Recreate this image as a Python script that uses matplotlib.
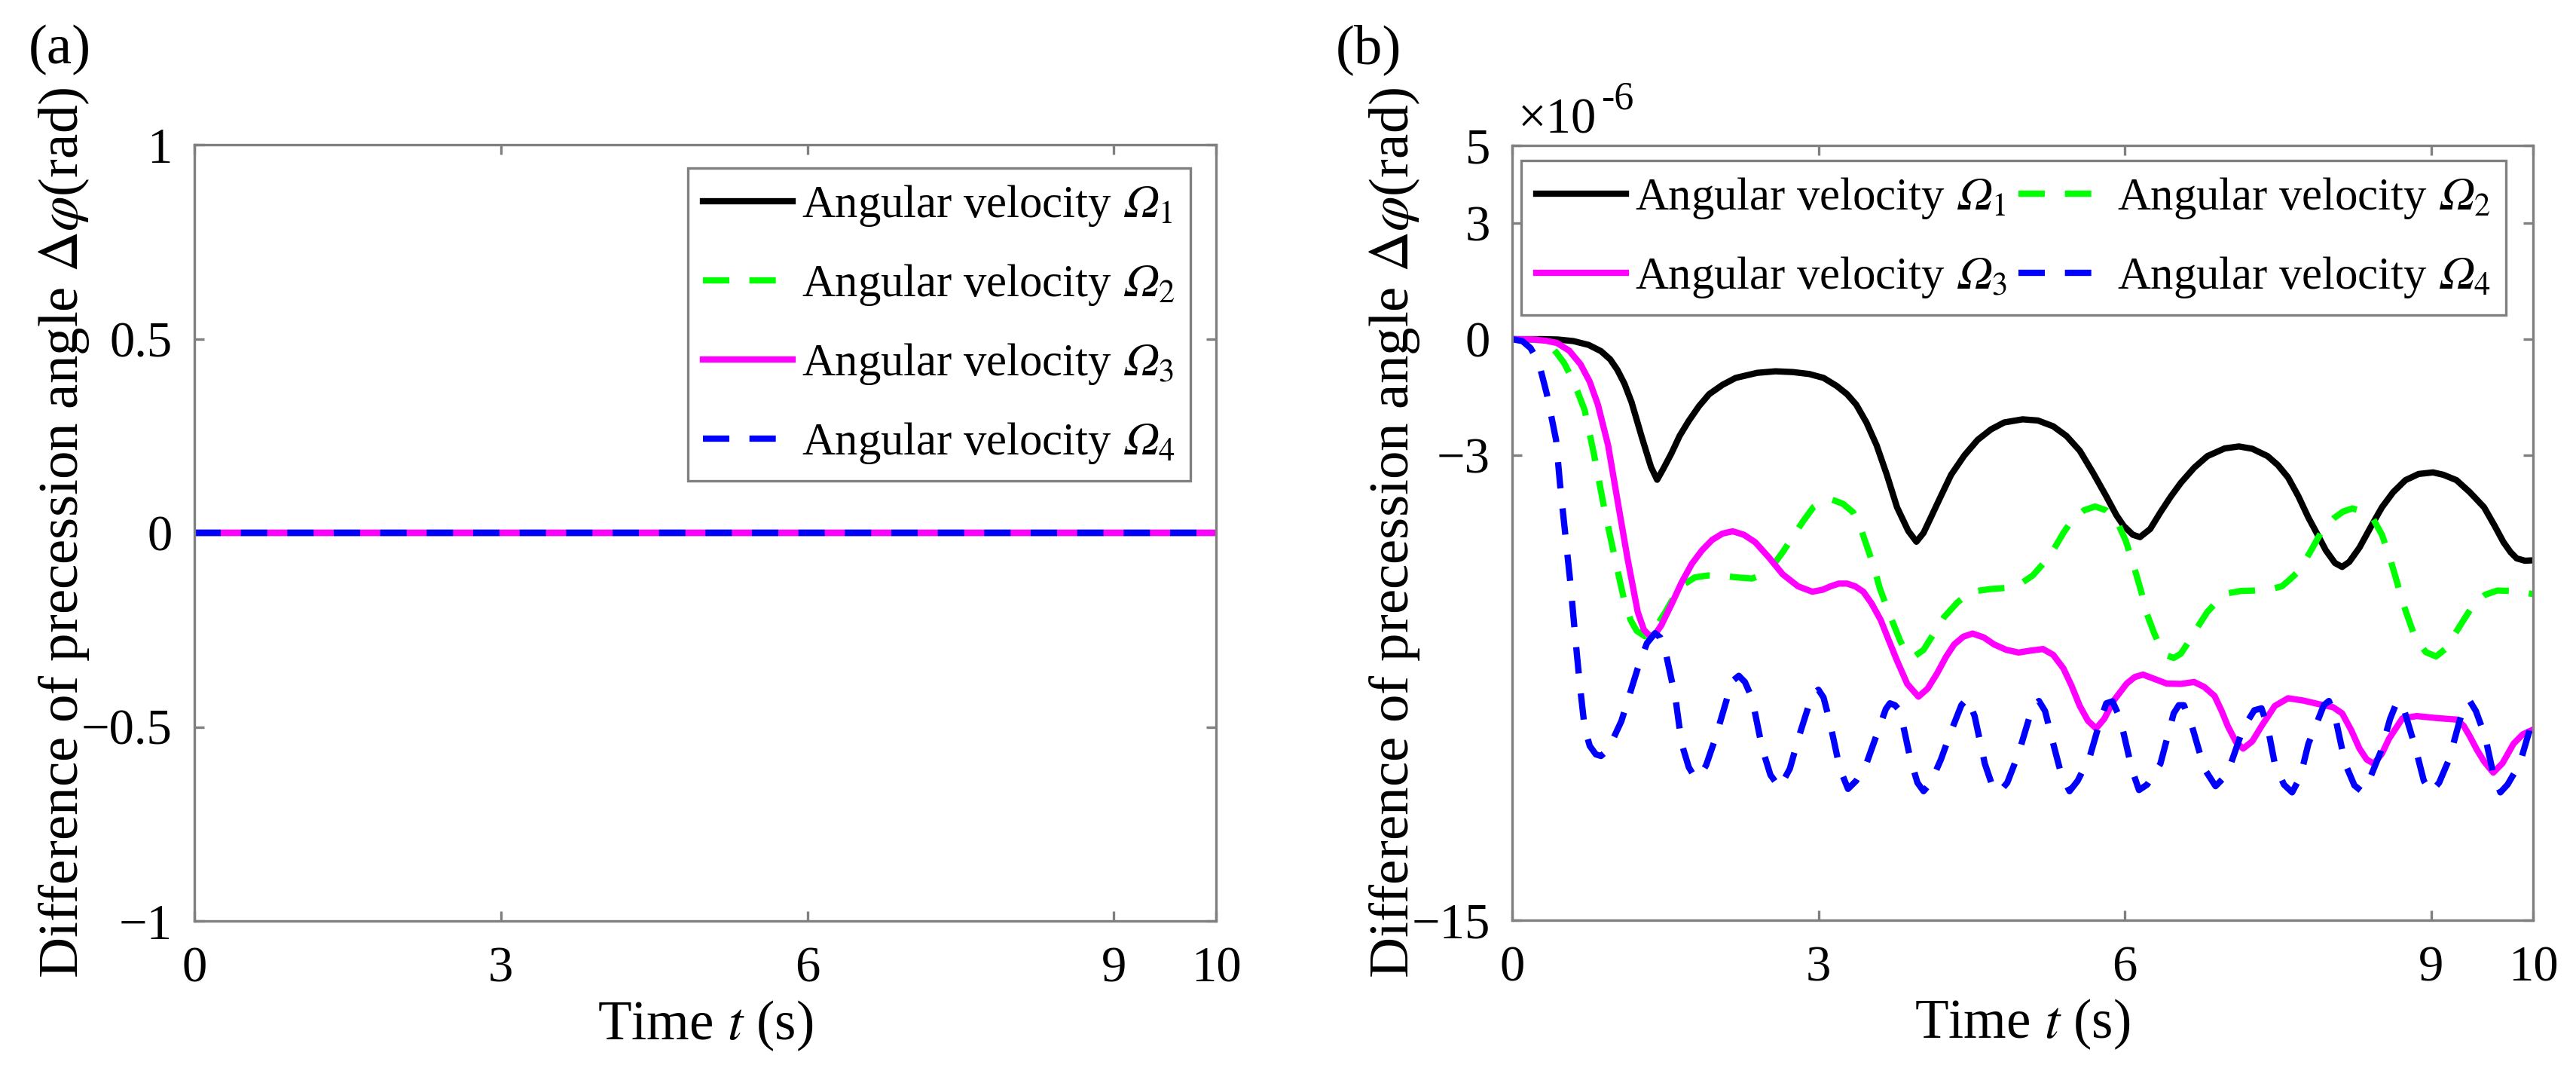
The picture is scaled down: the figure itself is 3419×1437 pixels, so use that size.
import matplotlib
matplotlib.use("Agg")
import matplotlib.pyplot as plt

plt.rcParams['font.family'] = ['Liberation Serif', 'DejaVu Serif']
plt.rcParams['mathtext.fontset'] = 'stix'

# ---------------- data ----------------
# (a) all four differences are identically zero
t_a = [0, 10]
dphi_a_1 = [0, 0]
dphi_a_2 = [0, 0]
dphi_a_3 = [0, 0]
dphi_a_4 = [0, 0]

# (b) values in units of 1e-6 rad
t_b1 = [0, 0.3, 0.45, 0.60, 0.75, 0.87, 0.96, 1.03, 1.10, 1.17, 1.27, 1.36, 1.42, 1.48, 1.56, 1.64,
        1.73, 1.83, 1.93, 2.06, 2.19, 2.40, 2.58, 2.75, 2.91, 3.05, 3.18, 3.28, 3.37, 3.47, 3.57,
        3.67, 3.77, 3.88, 3.96, 4.03, 4.10, 4.20, 4.30, 4.43, 4.56, 4.69, 4.82, 5.00, 5.15, 5.30,
        5.43, 5.56, 5.69, 5.82, 5.92, 5.99, 6.08, 6.15, 6.25, 6.35, 6.45, 6.55, 6.68, 6.81, 6.98,
        7.12, 7.25, 7.40, 7.50, 7.60, 7.70, 7.80, 7.89, 7.97, 8.06, 8.13, 8.20, 8.30, 8.41, 8.52,
        8.63, 8.75, 8.88, 9.02, 9.12, 9.25, 9.38, 9.52, 9.62, 9.71, 9.78, 9.84, 9.92, 10.0]
v_b1 = [0, 0, -0.01, -0.05, -0.15, -0.31, -0.52, -0.79, -1.15, -1.63, -2.53, -3.30, -3.63, -3.35, -2.95, -2.50,
        -2.11, -1.73, -1.42, -1.18, -1.00, -0.87, -0.83, -0.85, -0.90, -1.00, -1.21, -1.42, -1.69, -2.15, -2.74,
        -3.50, -4.34, -4.95, -5.23, -5.00, -4.61, -4.05, -3.50, -3.00, -2.60, -2.33, -2.15, -2.07, -2.10, -2.25,
        -2.50, -2.88, -3.45, -4.06, -4.55, -4.82, -5.05, -5.11, -4.90, -4.47, -4.07, -3.71, -3.32, -3.02, -2.82,
        -2.77, -2.83, -3.02, -3.25, -3.57, -4.05, -4.61, -5.05, -5.45, -5.78, -5.88, -5.75, -5.38, -4.85, -4.34,
        -3.95, -3.64, -3.48, -3.44, -3.50, -3.64, -3.95, -4.34, -4.80, -5.24, -5.50, -5.66, -5.72, -5.71]

t_b2 = [0, 0.3, 0.37, 0.44, 0.51, 0.57, 0.64, 0.71, 0.80, 0.90, 1.00, 1.10, 1.16, 1.22, 1.30, 1.40,
        1.50, 1.59, 1.69, 1.79, 1.92, 2.06, 2.20, 2.35, 2.45, 2.55, 2.65, 2.75, 2.85, 2.95, 3.04,
        3.13, 3.24, 3.34, 3.41, 3.47, 3.54, 3.60, 3.67, 3.74, 3.80, 3.85, 3.93, 4.03, 4.13, 4.23,
        4.36, 4.49, 4.69, 4.85, 4.96, 5.10, 5.20, 5.30, 5.40, 5.49, 5.60, 5.71, 5.82, 5.92, 6.01,
        6.09, 6.16, 6.22, 6.29, 6.35, 6.42, 6.48, 6.55, 6.61, 6.71, 6.81, 6.91, 7.01, 7.14, 7.27,
        7.42, 7.54, 7.62, 7.70, 7.82, 7.93, 8.05, 8.14, 8.23, 8.34, 8.43, 8.52, 8.59, 8.66, 8.72,
        8.79, 8.85, 8.95, 9.05, 9.14, 9.22, 9.32, 9.42, 9.53, 9.65, 9.80, 10.0]
v_b2 = [0, -0.02, -0.15, -0.37, -0.62, -0.93, -1.35, -1.83, -2.95, -4.34, -5.58, -6.77, -7.25, -7.53, -7.67, -7.46,
        -7.05, -6.63, -6.32, -6.15, -6.10, -6.11, -6.15, -6.18, -6.08, -5.86, -5.50, -5.10, -4.70, -4.34, -4.18,
        -4.14, -4.25, -4.47, -4.85, -5.31, -5.85, -6.42, -6.92, -7.39, -7.78, -8.05, -8.21, -8.02, -7.60, -7.18,
        -6.80, -6.52, -6.45, -6.42, -6.35, -6.10, -5.80, -5.45, -5.00, -4.65, -4.42, -4.32, -4.42, -4.68, -5.20,
        -5.86, -6.50, -7.11, -7.60, -7.95, -8.17, -8.23, -8.12, -7.88, -7.45, -7.04, -6.76, -6.56, -6.50, -6.49,
        -6.46, -6.38, -6.20, -6.00, -5.48, -4.96, -4.62, -4.45, -4.37, -4.45, -4.62, -5.05, -5.58, -6.20, -6.77,
        -7.30, -7.74, -8.08, -8.19, -8.00, -7.67, -7.25, -6.84, -6.60, -6.49, -6.50, -6.58]

t_b3 = [0, 0.2, 0.33, 0.44, 0.56, 0.67, 0.76, 0.84, 0.94, 1.03, 1.13, 1.23, 1.29, 1.35, 1.40, 1.46,
        1.56, 1.66, 1.76, 1.86, 1.96, 2.06, 2.16, 2.27, 2.38, 2.52, 2.65, 2.80, 2.94, 3.04, 3.12,
        3.20, 3.28, 3.36, 3.44, 3.52, 3.61, 3.69, 3.77, 3.87, 3.98, 4.07, 4.16, 4.25, 4.33, 4.42,
        4.51, 4.62, 4.72, 4.84, 4.96, 5.08, 5.20, 5.30, 5.40, 5.48, 5.56, 5.64, 5.72, 5.80, 5.89,
        6.02, 6.10, 6.18, 6.30, 6.41, 6.55, 6.68, 6.78, 6.88, 6.95, 7.01, 7.09, 7.16, 7.25, 7.34,
        7.47, 7.60, 7.75, 7.93, 8.04, 8.13, 8.22, 8.30, 8.37, 8.44, 8.52, 8.59, 8.72, 8.86, 9.05,
        9.25, 9.32, 9.38, 9.45, 9.52, 9.61, 9.70, 9.81, 9.90, 10.0]
v_b3 = [0, -0.01, -0.04, -0.10, -0.30, -0.65, -1.10, -1.69, -2.74, -4.13, -5.66, -7.04, -7.50, -7.67, -7.62, -7.39,
        -6.85, -6.28, -5.80, -5.45, -5.18, -5.02, -4.96, -5.05, -5.24, -5.65, -6.07, -6.38, -6.52, -6.47, -6.38,
        -6.31, -6.31, -6.38, -6.52, -6.82, -7.25, -7.78, -8.30, -8.90, -9.23, -9.02, -8.64, -8.20, -7.88, -7.68,
        -7.60, -7.70, -7.88, -8.02, -8.09, -8.04, -8.00, -8.15, -8.50, -8.95, -9.47, -9.85, -10.05, -9.80, -9.34,
        -8.89, -8.72, -8.66, -8.78, -8.89, -8.90, -8.85, -8.98, -9.21, -9.60, -9.99, -10.40, -10.57, -10.38, -9.99,
        -9.47, -9.27, -9.33, -9.44, -9.50, -9.66, -10.10, -10.57, -10.85, -10.96, -10.70, -10.31, -9.79, -9.73, -9.78,
        -9.82, -9.98, -10.25, -10.60, -10.90, -11.19, -10.95, -10.44, -10.20, -10.08]

t_b4 = [0, 0.10, 0.18, 0.26, 0.34, 0.43, 0.47, 0.52, 0.57, 0.62, 0.66, 0.71, 0.76, 0.82, 0.87, 0.94,
        1.07, 1.23, 1.32, 1.40, 1.45, 1.50, 1.60, 1.66, 1.73, 1.78, 1.83, 1.90, 1.99, 2.12, 2.17,
        2.22, 2.28, 2.35, 2.45, 2.53, 2.62, 2.72, 2.81, 2.90, 2.95, 3.00, 3.05, 3.11, 3.21, 3.29,
        3.37, 3.47, 3.61, 3.66, 3.70, 3.75, 3.80, 3.90, 3.97, 4.03, 4.10, 4.20, 4.30, 4.40, 4.46,
        4.53, 4.63, 4.70, 4.77, 4.85, 4.96, 5.10, 5.16, 5.22, 5.30, 5.38, 5.46, 5.54, 5.66, 5.76,
        5.82, 5.88, 5.94, 5.99, 6.07, 6.14, 6.22, 6.35, 6.48, 6.53, 6.58, 6.66, 6.78, 6.89, 6.96,
        7.04, 7.16, 7.27, 7.34, 7.40, 7.47, 7.56, 7.64, 7.72, 7.80, 7.87, 7.95, 8.00, 8.06, 8.16,
        8.25, 8.32, 8.40, 8.51, 8.60, 8.67, 8.74, 8.85, 8.93, 9.00, 9.08, 9.18, 9.28, 9.33, 9.38,
        9.44, 9.53, 9.61, 9.68, 9.75, 9.87, 10.0]
v_b4 = [0, -0.05, -0.23, -0.60, -1.42, -2.60, -3.77, -5.03, -6.28, -7.74, -8.85, -10.03, -10.50, -10.72, -10.76, -10.60,
        -9.86, -8.50, -7.85, -7.59, -7.70, -8.04, -9.27, -10.44, -11.05, -11.27, -11.32, -11.00, -10.31, -9.14, -8.80,
        -8.69, -8.85, -9.27, -10.57, -11.25, -11.58, -11.09, -10.25, -9.50, -9.15, -9.05, -9.25, -9.86, -11.09, -11.61,
        -11.40, -10.96, -9.92, -9.55, -9.40, -9.45, -9.60, -10.83, -11.45, -11.67, -11.45, -10.85, -10.12, -9.45, -9.27,
        -9.73, -10.96, -11.50, -11.70, -11.45, -10.70, -9.47, -9.34, -9.60, -10.44, -11.25, -11.67, -11.40, -10.76, -9.85,
        -9.40, -9.35, -9.70, -10.18, -11.10, -11.64, -11.50, -10.96, -9.66, -9.45, -9.45, -10.00, -11.09, -11.54, -11.35,
        -10.96, -10.05, -9.58, -9.53, -10.00, -10.96, -11.50, -11.70, -11.30, -10.44, -9.99, -9.45, -9.34, -9.73, -10.96,
        -11.52, -11.67, -11.35, -10.64, -9.80, -9.34, -9.60, -10.57, -11.40, -11.70, -11.45, -10.83, -9.86, -9.45, -9.34,
        -9.60, -10.25, -11.22, -11.70, -11.50, -10.96, -9.79]

OM = '\U0001D6FA'  # mathematical italic capital omega
labels = ['Angular velocity $' + OM + '_1$', 'Angular velocity $' + OM + '_2$',
          'Angular velocity $' + OM + '_3$', 'Angular velocity $' + OM + '_4$']
xticks = [0, 3, 6, 9, 10]
yticks_a = [1, 0.5, 0, -0.5, -1]
yticks_b = [5, 3, 0, -3, -15]

# ---------------- styling ----------------
colors = ['#000000', '#00ff00', '#ff00ff', '#0000ff']
dash = (4.2, 3.2)
lw = 2.0
spine_c = '#808080'
TICK_FS = 16
XLAB_FS = 17.5
YLAB_FS = 18
LEG_FS = 14.6

W, H = 3419, 1437
fig = plt.figure(figsize=(W / 300, H / 300), dpi=300)
axA = fig.add_axes([258 / W, 1 - 1222 / H, 1356 / W, 1030 / H])
axB = fig.add_axes([2007 / W, 1 - 1221 / H, 1355 / W, 1028 / H])


def style_axes(ax):
    for s in ax.spines.values():
        s.set_color(spine_c)
        s.set_linewidth(0.8)
    ax.tick_params(direction='in', length=3.2, width=0.8, color=spine_c,
                   labelsize=TICK_FS, top=True, right=True, labelcolor='black')
    ax.tick_params(axis='y', pad=7)
    ax.tick_params(axis='x', pad=8)
    ax.set_xlim(0, 10)
    ax.set_xticks(xticks)
    ax.set_xlabel(r'Time $t$ (s)', fontsize=XLAB_FS)
    ax.xaxis.set_label_coords(0.5, -0.10)


def legend_kw(anchor, ncol):
    return dict(loc='upper left', bbox_to_anchor=anchor, bbox_transform=fig.transFigure,
                ncol=ncol, fontsize=LEG_FS, frameon=True, fancybox=False, framealpha=1,
                edgecolor=spine_c, borderaxespad=0, handlelength=1.95, handletextpad=0.2,
                borderpad=0.33, labelspacing=0.74, columnspacing=0.25)


def draw(ax, ts, vs):
    hs = []
    for i in range(4):
        kw = dict(color=colors[i], lw=lw, label=labels[i])
        if i in (1, 3):
            h, = ax.plot(ts[i], vs[i], ls=(0, dash), **kw)
        else:
            h, = ax.plot(ts[i], vs[i], **kw)
        hs.append(h)
    return hs


# (a)
hA = draw(axA, [t_a] * 4, [dphi_a_1, dphi_a_2, dphi_a_3, dphi_a_4])
axA.set_ylim(-1, 1)
axA.set_yticks(yticks_a)
axA.set_yticklabels(['1', '0.5', '0', '\u22120.5', '\u22121'])
style_axes(axA)
axA.set_ylabel(r'Difference of precession angle $\Delta\varphi$(rad)', fontsize=YLAB_FS)
axA.yaxis.set_label_coords(-0.101, 0.5)
legA = axA.legend(handles=hA, **legend_kw((913 / W, 1 - 223 / H), 1))
legA.get_frame().set_linewidth(0.8)

# (b)
hB = draw(axB, [t_b1, t_b2, t_b3, t_b4], [v_b1, v_b2, v_b3, v_b4])
axB.set_ylim(-15, 5)
axB.set_yticks(yticks_b)
axB.set_yticklabels(['5', '3', '0', '\u22123', '\u221215'])
style_axes(axB)
axB.set_ylabel(r'Difference of precession angle $\Delta\varphi$(rad)', fontsize=YLAB_FS)
axB.yaxis.set_label_coords(-0.0886, 0.5)
# row-wise order: Omega1, Omega2 / Omega3, Omega4
legB = axB.legend(handles=[hB[0], hB[2], hB[1], hB[3]], **legend_kw((2019 / W, 1 - 213 / H), 2))
legB.get_frame().set_linewidth(0.8)

# exponent marker
axB.text(0.0059, 1.0156, '\u00d710', transform=axB.transAxes, fontsize=TICK_FS,
         ha='left', va='baseline')
axB.text(0.0871, 1.0467, '-6', transform=axB.transAxes, fontsize=12.5,
         ha='left', va='baseline')

# panel labels
fig.text(38 / W, 1 - 66 / H, '(a)', fontsize=18, ha='left', va='center')
fig.text(1773 / W, 1 - 66 / H, '(b)', fontsize=18, ha='left', va='center')

fig.savefig('out.png', dpi=300, facecolor='white')
